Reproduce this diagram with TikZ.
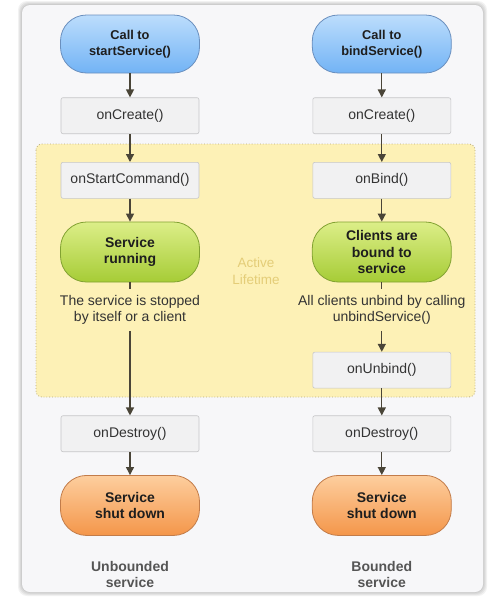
\documentclass[tikz,border=0pt]{standalone}
\usepackage{fontspec}
\setmainfont{Liberation Sans}
\usepackage{tikz}
\usetikzlibrary{positioning, arrows.meta, calc}
\definecolor{cardbg}{HTML}{F7F7F9}
\definecolor{boxfill}{HTML}{F1F1F2}
\definecolor{boxline}{HTML}{C6C6C8}
\definecolor{boxtext}{HTML}{333333}
\definecolor{pilltext}{HTML}{1E1E1E}
\definecolor{arrowgray}{HTML}{4A4538}
\definecolor{bluetop}{HTML}{BCDDFC}
\definecolor{bluebot}{HTML}{72B3F5}
\definecolor{blueline}{HTML}{6A8FBE}
\definecolor{greentop}{HTML}{DCEE88}
\definecolor{greenbot}{HTML}{A6CC36}
\definecolor{greenline}{HTML}{82A232}
\definecolor{orangetop}{HTML}{FDCE9E}
\definecolor{orangebot}{HTML}{F4964A}
\definecolor{orangeline}{HTML}{C27C4A}
\definecolor{activefill}{HTML}{FDF1B6}
\definecolor{activeline}{HTML}{B8AA78}
\definecolor{activetxt}{HTML}{E4CD78}
\definecolor{captiongray}{HTML}{555555}
\tikzset{
>={Triangle[width=8pt,length=8pt]}, % small filled arrow heads
flow/.style={->, draw=arrowgray, line width=1.3pt}, % connectors between the steps
pill/.style={line width=0.8pt, rounded corners=26pt, minimum width=139pt, minimum height=58pt, align=center, text=pilltext, font=\fontsize{14}{16.5}\selectfont\bfseries}, % rounded start and end states
call/.style={pill, top color=bluetop, bottom color=bluebot, draw=blueline, font=\fontsize{12.8}{16}\selectfont\bfseries},
running/.style={pill, minimum height=60pt, top color=greentop, bottom color=greenbot, draw=greenline},
shutdown/.style={pill, minimum height=60pt, top color=orangetop, bottom color=orangebot, draw=orangeline},
box/.style={draw=boxline, fill=boxfill, line width=0.6pt, rounded corners=2pt, minimum width=138pt, minimum height=36pt, text=boxtext, font=\fontsize{14}{16}\selectfont}, % callback boxes
note/.style={align=center, inner xsep=2pt, inner ysep=6pt, text=boxtext, font=\fontsize{14}{16}\selectfont}, % text between the steps
active/.style={fill=activefill, draw=activeline, dotted, line width=0.8pt, rounded corners=6pt},
activetext/.style={align=center, text=activetxt, font=\fontsize{13.5}{17}\selectfont},
caption/.style={align=center, inner sep=0pt, text=captiongray, font=\fontsize{14}{16.5}\selectfont\bfseries},
}
\begin{document}
\begin{tikzpicture}
\useasboundingbox (0pt,0pt) rectangle (489pt,-600pt);
\fill[white] (0pt,0pt) rectangle (489pt,-600pt);
% card with a soft shadow
\coordinate (cardnw) at (22pt,-5pt);
\coordinate (cardse) at (483pt,-592pt);
\foreach \g in {1,2,3,4}
    \fill[black, opacity=0.05, rounded corners=9pt] ([shift={(-\g pt,\g pt)}]cardnw) rectangle ([shift={(\g pt,-\g pt)}]cardse);
\fill[cardbg, rounded corners=8pt] (cardnw) rectangle (cardse);
\draw[active] (36pt,-144pt) rectangle (475pt,-397pt);
% unbounded service
\node[call] (start) at (130pt,-44pt) {Call to\\startService()};
\node[box, below=24pt of start] (lcreate) {onCreate()};
\node[box, below=28pt of lcreate] (lstartcmd) {onStartCommand()};
\node[running, below=23pt of lstartcmd] (lrun) {Service\\running};
\node[note, below=7pt of lrun] (ltext) {The service is stopped\\by itself or a client};
% bounded service
\node[call, right=112pt of start] (bind) {Call to\\bindService()};
\node[box, below=24pt of bind] (rcreate) {onCreate()};
\node[box, below=28pt of rcreate] (onbind) {onBind()};
\node[running, below=23pt of onbind] (clients) {Clients are\\bound to\\service};
\node[note, below=7pt of clients] (rtext) {All clients unbind by calling\\unbindService()};
\node[box, below=21pt of rtext] (unbind) {onUnbind()};
\node[box, below=27pt of unbind] (rdestroy) {onDestroy()};
\node[shutdown, below=23pt of rdestroy] (rshut) {Service\\shut down};
\node[caption, below=25pt of rshut] (rcaption) {Bounded\\service};
% end of the unbounded side
\node[box] (ldestroy) at (ltext |- rdestroy) {onDestroy()};
\node[shutdown, below=23pt of ldestroy] (lshut) {Service\\shut down};
\node[caption, below=25pt of lshut] (lcaption) {Unbounded\\service};
\node[activetext, yshift=-19pt] (active) at ($(lrun.east)!.5!(clients.west)$) {Active\\Lifetime};
\draw[flow] (start) -- (lcreate);
\draw[flow] (lcreate) -- (lstartcmd);
\draw[flow] (lstartcmd) -- (lrun);
\draw[flow, -] (lrun) -- (ltext);
\draw[flow] (ltext) -- (ldestroy);
\draw[flow] (ldestroy) -- (lshut);
\draw[flow] (bind) -- (rcreate);
\draw[flow] (rcreate) -- (onbind);
\draw[flow] (onbind) -- (clients);
\draw[flow, -] (clients) -- (rtext);
\draw[flow] (rtext) -- (unbind);
\draw[flow] (unbind) -- (rdestroy);
\draw[flow] (rdestroy) -- (rshut);
\end{tikzpicture}
\end{document}
